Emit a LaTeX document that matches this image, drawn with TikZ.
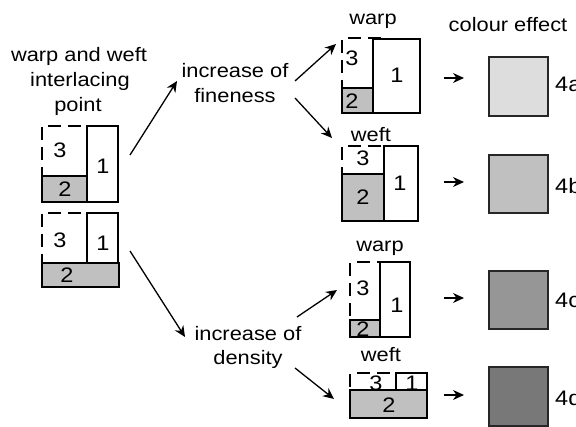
\documentclass[tikz,border=0pt]{standalone}
\usepackage{fontspec}
\setmainfont[FakeStretch=1.12]{Liberation Sans}
\usetikzlibrary{arrows.meta}
\definecolor{boxgray}{HTML}{C0C0C0}
\definecolor{ca}{HTML}{DDDDDD}
\definecolor{cb}{HTML}{C0C0C0}
\definecolor{cc}{HTML}{969696}
\definecolor{cd}{HTML}{787878}
\begin{document}
\begin{tikzpicture}[x=1pt,y=-1pt,
  lbl/.style={font=\fontsize{19.5}{25}\selectfont, inner sep=0pt, anchor=base},
  dig/.style={font=\fontsize{21}{25}\selectfont, inner sep=0pt},
  openbox/.style={draw=black, line width=1.3pt, fill=white},
  graybox/.style={draw=black, line width=1.3pt, fill=boxgray},
  dashline/.style={line width=2.4pt, dash pattern=on 13pt off 7pt},
  arr/.style={line width=1.3pt, -{Stealth[length=11pt,width=10pt]}},
  swatch/.style={draw=black!85, line width=1.6pt},
]
\useasboundingbox (0,0) rectangle (576,427);
\clip (0,0) rectangle (576,427);

% ---------- titles ----------
\node[lbl] (t1) at (79,62) {warp and weft};
\node[lbl] (t2) at (80,87) {interlacing};
\node[lbl] (t3) at (78,112) {point};
\node[lbl] (fin1) at (235,78) {increase of};
\node[lbl] (fin2) at (235,103) {fineness};
\node[lbl] (den1) at (248,341) {increase of};
\node[lbl] (den2) at (248,365) {density};
\node[lbl] (wC) at (373,25) {warp};
\node[lbl] (wD) at (371,142) {weft};
\node[lbl] (wE) at (380,252) {warp};
\node[lbl] (wF) at (381,362) {weft};
\node[lbl] (ce) at (508,32) {colour effect};

% ---------- block A ----------
\draw[dashline] (42,127) -- (42,176);
\draw[dashline] (48,126) -- (87,126);
\draw[openbox] (87,126) rectangle (118,202);
\draw[graybox] (42,176) rectangle (87,202);
\node[dig] (A3) at (60,150) {3};
\node[dig] (A1) at (103,166) {1};
\node[dig] (A2) at (65,189) {2};

% ---------- block B ----------
\draw[dashline] (42,214) -- (42,263);
\draw[dashline] (48,213) -- (87,213);
\draw[openbox] (87,213) rectangle (118,263);
\draw[graybox] (42,263) rectangle (119,287);
\node[dig] (B3) at (60,240) {3};
\node[dig] (B1) at (103,243) {1};
\node[dig] (B2) at (67,275) {2};

% ---------- block C ----------
\draw[dashline] (342,40) -- (342,88);
\draw[dashline] (348,38) -- (385,38);
\draw[openbox] (373,39) rectangle (420,113);
\draw[graybox] (342,88) rectangle (373,113);
\node[dig] (C3) at (352,58) {3};
\node[dig] (C1) at (397,75) {1};
\node[dig] (C2) at (352,101) {2};

% ---------- block D ----------
\draw[dashline] (342,147) -- (342,174);
\draw[dashline] (348,146) -- (384,146);
\draw[openbox] (384,146) rectangle (418,221);
\draw[graybox] (342,174) rectangle (384,221);
\node[dig] (D3) at (363,158) {3};
\node[dig] (D1) at (400,183) {1};
\node[dig] (D2) at (363,197) {2};

% ---------- block E ----------
\draw[dashline] (350,263) -- (350,320);
\draw[dashline] (357,262) -- (393,262);
\draw[openbox] (380,262) rectangle (410,337);
\draw[graybox] (350,320) rectangle (380,337);
\node[dig] (E3) at (363,288) {3};
\node[dig] (E1) at (397,305) {1};
\node[dig] (E2) at (363,329) {2};

% ---------- block F ----------
\draw[dashline] (350,374) -- (350,390);
\draw[dashline] (357,373) -- (393,373);
\draw[openbox] (396,373) rectangle (427,390);
\draw[graybox] (350,390) rectangle (427,418);
\node[dig] (F3) at (376,383) {3};
\node[dig] (F1) at (412,383) {1};
\node[dig] (F2) at (389,405) {2};

% ---------- colour swatches ----------
\draw[swatch, fill=ca] (489,57) rectangle (548,116);
\draw[swatch, fill=cb] (489,155) rectangle (548,213);
\draw[swatch, fill=cc] (489,271) rectangle (548,329);
\draw[swatch, fill=cd] (489,367) rectangle (548,426);
\node[dig, anchor=west] (L4a) at (555,84) {4a};
\node[dig, anchor=west] (L4b) at (555,186) {4b};
\node[dig, anchor=west] (L4c) at (555,300) {4c};
\node[dig, anchor=west] (L4d) at (555,398) {4d};

% ---------- arrow end points ----------
\coordinate (pA) at (130,155);
\coordinate (pFinIn) at (177,81);
\coordinate (pB) at (130,251);
\coordinate (pDenIn) at (185,337);
\coordinate (pFinUp) at (295,81);
\coordinate (pC) at (336,44);
\coordinate (pFinDn) at (295,98);
\coordinate (pD) at (332,138);
\coordinate (pDenUp) at (297,317);
\coordinate (pE) at (337,290);
\coordinate (pDenDn) at (295,368);
\coordinate (pF) at (334,399);
\foreach \n/\y in {a/78,b/182,c/298,d/395}{
  \coordinate (s\n) at (444,\y);
  \coordinate (e\n) at (464,\y);
}

\draw[arr] (pA) -- (pFinIn);
\draw[arr] (pB) -- (pDenIn);
\draw[arr] (pFinUp) -- (pC);
\draw[arr] (pFinDn) -- (pD);
\draw[arr] (pDenUp) -- (pE);
\draw[arr] (pDenDn) -- (pF);
\foreach \n in {a,b,c,d}{
  \draw[arr] (s\n) -- (e\n);
}
\end{tikzpicture}
\end{document}
